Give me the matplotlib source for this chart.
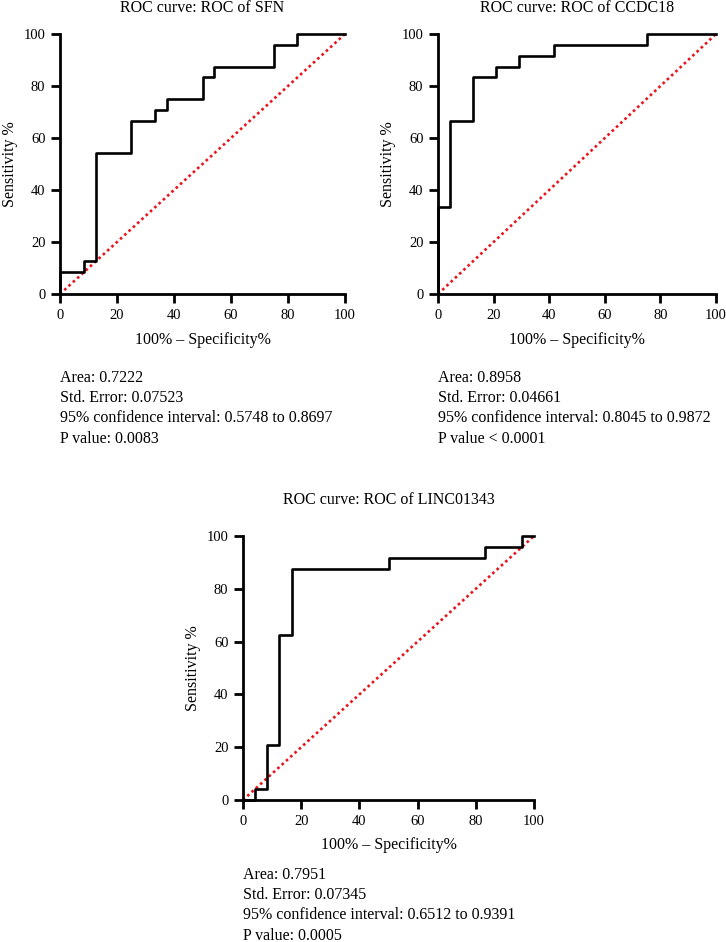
import matplotlib

matplotlib.use("Agg")
import matplotlib.pyplot as plt

plt.rcParams["font.family"] = ["Liberation Serif", "DejaVu Serif"]

W, H = 726, 942

# ROC step vertices (100% - specificity %, sensitivity %)
sfn_x = [0, 0, 8.33, 8.33, 12.5, 12.5, 25, 25, 33.33, 33.33, 37.5, 37.5,
         50, 50, 54.17, 54.17, 75, 75, 83.33, 83.33, 100]
sfn_y = [0, 8.33, 8.33, 12.5, 12.5, 54.17, 54.17, 66.67, 66.67, 70.83, 70.83,
         75, 75, 83.33, 83.33, 87.5, 87.5, 95.83, 95.83, 100, 100]

ccdc_x = [0, 0, 4.17, 4.17, 12.5, 12.5, 20.83, 20.83, 29.17, 29.17, 41.67,
          41.67, 75, 75, 100]
ccdc_y = [0, 33.33, 33.33, 66.67, 66.67, 83.33, 83.33, 87.5, 87.5, 91.67,
          91.67, 95.83, 95.83, 100, 100]

linc_x = [0, 4.17, 4.17, 8.33, 8.33, 12.5, 12.5, 16.67, 16.67, 50, 50,
          83.33, 83.33, 95.83, 95.83, 100]
linc_y = [0, 0, 4.17, 4.17, 20.83, 20.83, 62.5, 62.5, 87.5, 87.5, 91.67,
          91.67, 95.83, 95.83, 100, 100]

titles = ["ROC curve: ROC of SFN", "ROC curve: ROC of CCDC18",
          "ROC curve: ROC of LINC01343"]
stats = [
    ["Area: 0.7222", "Std. Error: 0.07523",
     "95% confidence interval: 0.5748 to 0.8697", "P value: 0.0083"],
    ["Area: 0.8958", "Std. Error: 0.04661",
     "95% confidence interval: 0.8045 to 0.9872", "P value < 0.0001"],
    ["Area: 0.7951", "Std. Error: 0.07345",
     "95% confidence interval: 0.6512 to 0.9391", "P value: 0.0005"],
]
ticks = [0, 20, 40, 60, 80, 100]

# axes boxes in pixels: left, top, right, bottom
boxes = [(60, 34, 345, 294), (438, 34, 716, 294), (243, 536, 534, 800)]
title_y = [8, 8, 500]
xlabel_y = [340, 340, 845]
stats_y = [378, 378, 875]
fs = 11.5

fig = plt.figure(figsize=(W / 100, H / 100), dpi=100)

curves = [(sfn_x, sfn_y), (ccdc_x, ccdc_y), (linc_x, linc_y)]
for i, (xs, ys) in enumerate(curves):
    l, t, r, b = boxes[i]
    ax = fig.add_axes([l / W, 1 - b / H, (r - l) / W, (b - t) / H])
    ax.plot([0, 100], [0, 100], color="#e8141b", lw=1.9, ls=(0, (1, 1.2)),
            clip_on=False, zorder=2)
    ax.plot(xs, ys, color="black", lw=1.9, clip_on=False, zorder=3)
    ax.set_xlim(0, 100)
    ax.set_ylim(0, 100)
    ax.set_xticks(ticks)
    ax.set_yticks(ticks)
    ax.tick_params(direction="out", length=6.5, width=2, labelsize=10.5,
                   pad=4)
    for side in ["top", "right"]:
        ax.spines[side].set_visible(False)
    for side in ["left", "bottom"]:
        ax.spines[side].set_linewidth(2)
    ax.set_ylabel("Sensitivity %", fontsize=fs, labelpad=4)
    cx = (l + r) / 2 / W
    fig.text(cx, 1 - title_y[i] / H, titles[i], ha="center", va="center",
             fontsize=fs)
    fig.text(cx, 1 - xlabel_y[i] / H, "100% \u2013 Specificity%", ha="center",
             va="center", fontsize=fs)
    for j, line in enumerate(stats[i]):
        fig.text(l / W, 1 - (stats_y[i] + 20.2 * j) / H, line, ha="left",
                 va="center", fontsize=fs)

fig.savefig("out.png", dpi=100)
